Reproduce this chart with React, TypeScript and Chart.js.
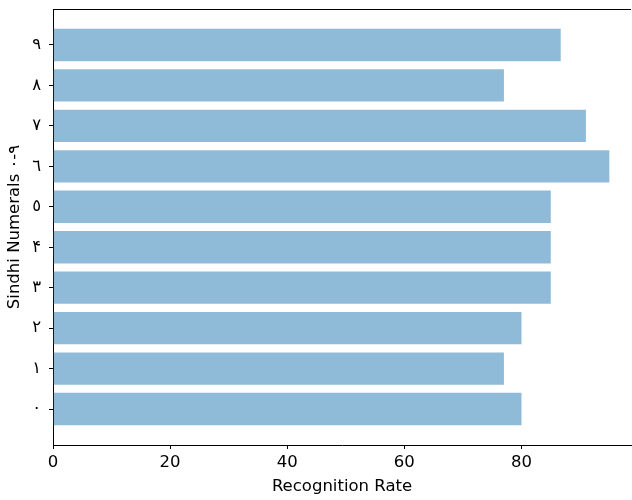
import React, { useEffect, useRef } from 'react';
import { Chart, registerables } from 'chart.js';

Chart.register(...registerables);

const categories = ['٠', '١', '٢', '٣', '۴', '٥', '٦', '٧', '٨', '٩'];
const rates = [80, 77, 80, 85, 85, 85, 95, 91, 77, 86.7];
const xTicks = [0, 20, 40, 60, 80];
const xAxisTitle = 'Recognition Rate';
const yAxisTitle = 'Sindhi Numerals ٠\u200E-\u200E٩';

const FONT = "'DejaVu Sans', sans-serif";
const FS = 16.5;

const topSpine = {
  id: 'topSpine',
  afterDraw(chart: any) {
    const { ctx, chartArea } = chart;
    ctx.save();
    ctx.strokeStyle = '#000';
    ctx.lineWidth = 1;
    ctx.beginPath();
    ctx.moveTo(chartArea.left, chartArea.top + 0.5);
    ctx.lineTo(chartArea.right, chartArea.top + 0.5);
    ctx.stroke();
    ctx.restore();
  },
};

export default function App() {
  const ref = useRef<HTMLCanvasElement | null>(null);

  useEffect(() => {
    if (!ref.current) return;
    const chart = new Chart(ref.current, {
      type: 'bar',
      data: {
        datasets: [
          {
            data: rates.map((v, i) => ({ x: v, y: i })),
            backgroundColor: 'rgba(31,119,180,0.5)',
            borderWidth: 0,
            barPercentage: 0.8,
            categoryPercentage: 1,
          },
        ],
      },
      options: {
        indexAxis: 'y',
        animation: false,
        responsive: false,
        devicePixelRatio: 1,
        layout: { padding: { top: 9, right: 1, left: 0, bottom: 0 } },
        plugins: { legend: { display: false }, tooltip: { enabled: false } },
        scales: {
          x: {
            type: 'linear',
            min: 0,
            max: 98.7,
            offset: false,
            afterBuildTicks: (axis: any) => {
              axis.ticks = xTicks.map((v) => ({ value: v }));
            },
            afterFit: (axis: any) => {
              axis.height = 55;
              axis.paddingLeft = 0;
              axis.paddingRight = 0;
            },
            grid: { offset: false, drawOnChartArea: false, drawTicks: true, tickLength: 4, color: '#000' },
            border: { display: true, color: '#000', width: 1 },
            ticks: { color: '#000', font: { family: FONT, size: FS }, padding: 4, maxRotation: 0 },
            title: {
              display: true,
              text: xAxisTitle,
              color: '#000',
              font: { family: FONT, size: FS },
              padding: { top: 0, bottom: 3 },
            },
          },
          y: {
            type: 'linear',
            min: -0.89,
            max: 9.89,
            offset: false,
            afterBuildTicks: (axis: any) => {
              axis.ticks = categories.map((_, i) => ({ value: i }));
            },
            afterFit: (axis: any) => {
              axis.width = 53;
              axis.paddingTop = 0;
              axis.paddingBottom = 0;
            },
            grid: { offset: false, drawOnChartArea: false, drawTicks: true, tickLength: 4, color: '#000' },
            border: { display: true, color: '#000', width: 1 },
            ticks: {
              color: '#000',
              font: { family: FONT, size: FS },
              padding: 8,
              callback: (v: any) => categories[Math.round(Number(v))] ?? '',
            },
            title: {
              display: true,
              text: yAxisTitle,
              color: '#000',
              font: { family: FONT, size: FS },
              padding: { top: 5, bottom: 0 },
            },
          },
        },
      },
      plugins: [topSpine],
    } as any);
    return () => chart.destroy();
  }, []);

  return (
    <div style={{ position: 'fixed', left: 0, top: 0, width: 632, height: 500, background: '#fff' }}>
      <canvas ref={ref} width={632} height={500} />
    </div>
  );
}
